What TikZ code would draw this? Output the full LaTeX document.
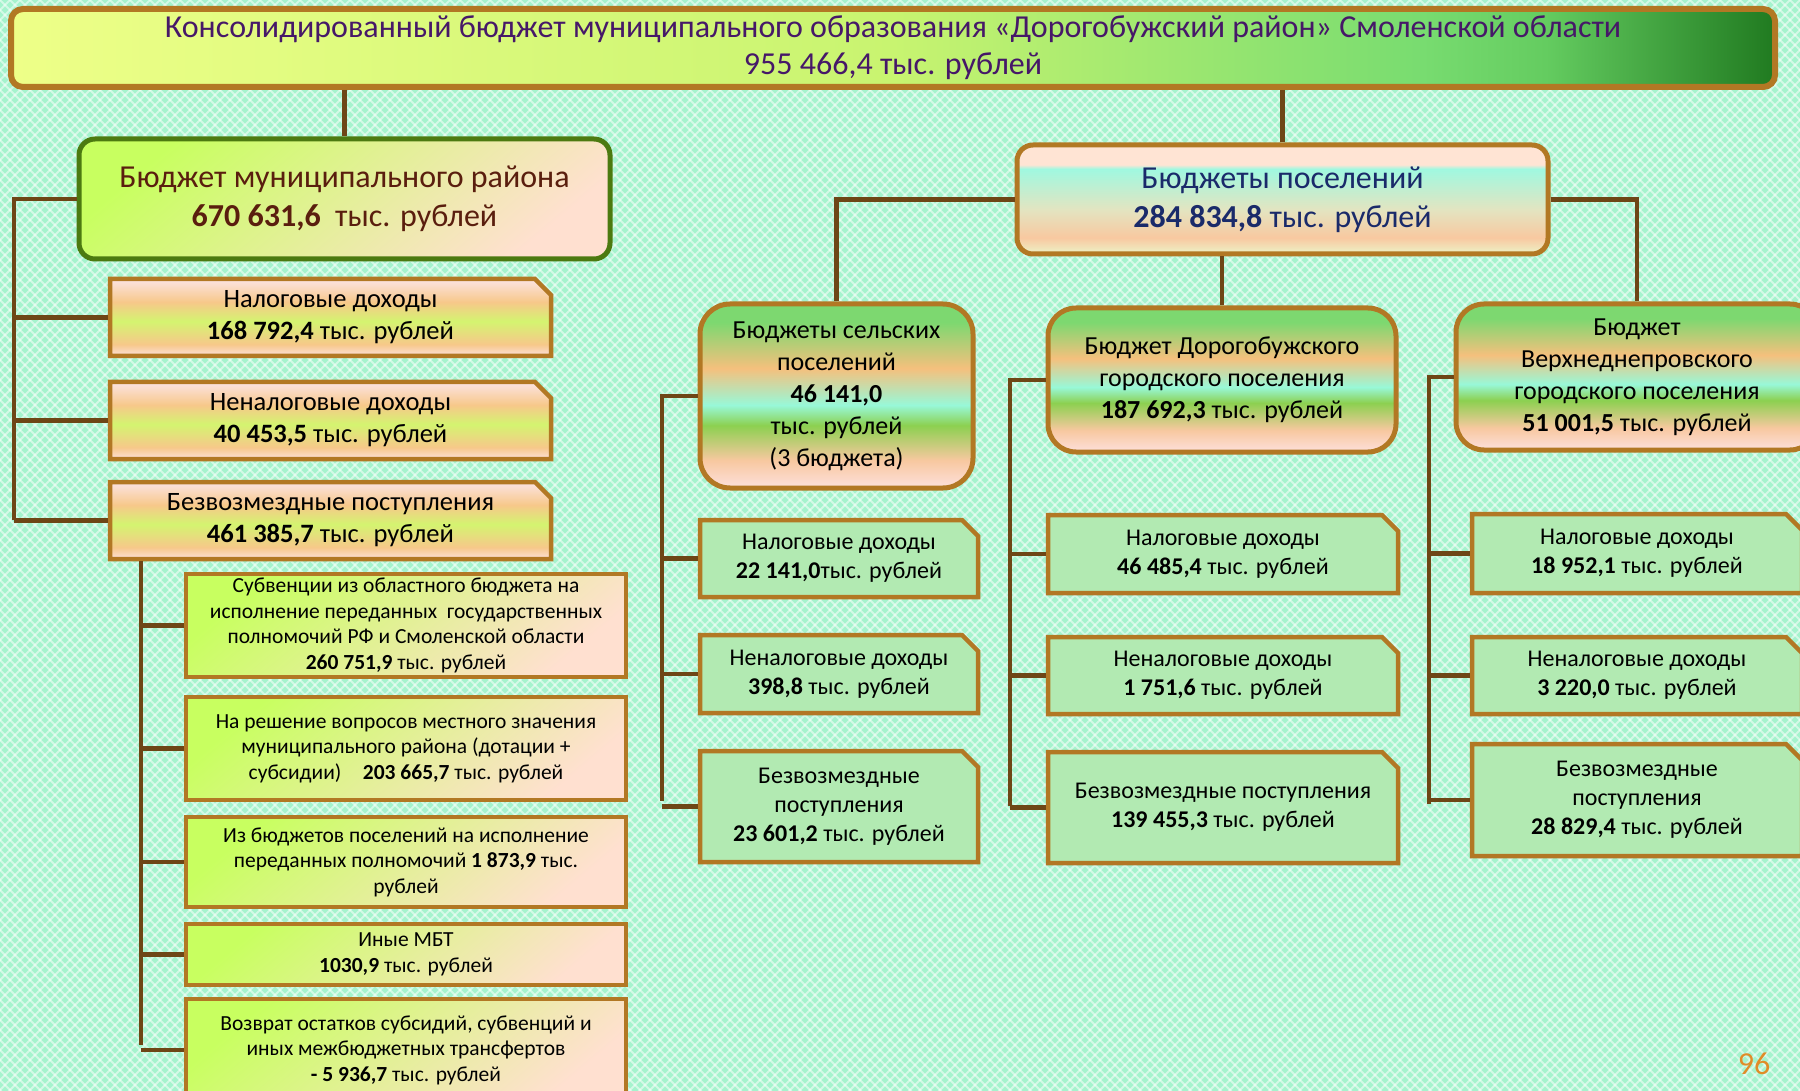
\documentclass[tikz,border=0pt]{standalone}
\usepackage{fontspec}
\setmainfont{Carlito}
\usetikzlibrary{shapes.misc,positioning}
\definecolor{bgmint}{RGB}{165,243,205}
\definecolor{linkbrown}{RGB}{110,70,22}
\definecolor{gold}{RGB}{178,120,36}
\definecolor{leafgreen}{RGB}{76,122,16}
\definecolor{titlepurple}{RGB}{70,24,104}
\definecolor{munibrown}{RGB}{90,30,14}
\definecolor{posnavy}{RGB}{26,42,106}
\definecolor{cellgreen}{RGB}{178,234,178}
\definecolor{pageorange}{RGB}{224,140,40}
% shadings
\definecolor{ttA}{RGB}{238,255,136}
\definecolor{ttB}{RGB}{200,244,112}
\definecolor{ttC}{RGB}{120,220,112}
\definecolor{ttD}{RGB}{100,204,96}
\definecolor{ttE}{RGB}{32,122,32}
\definecolor{chGreen}{RGB}{125,216,112}
\definecolor{chOrange}{RGB}{245,192,125}
\definecolor{chAqua}{RGB}{152,248,216}
\definecolor{chLeaf}{RGB}{140,208,80}
\definecolor{chPeach}{RGB}{248,200,160}
\definecolor{chPink}{RGB}{253,224,220}
\definecolor{lbPink}{RGB}{252,228,228}
\definecolor{lbOrange}{RGB}{247,200,138}
\definecolor{lbLime}{RGB}{212,244,112}
\definecolor{psPeach}{RGB}{255,228,212}
\definecolor{psAqua}{RGB}{160,248,224}
\definecolor{psTan}{RGB}{228,228,192}
\definecolor{psLow}{RGB}{236,244,200}
\definecolor{dgLime}{RGB}{200,255,96}
\definecolor{dgMid}{RGB}{232,236,150}
\definecolor{dgPeach}{RGB}{255,224,208}
\pgfdeclarehorizontalshading{titleshade}{100bp}{color(0bp)=(ttA); color(25bp)=(ttA); color(50bp)=(ttB); color(65bp)=(ttC); color(68.5bp)=(ttD); color(75bp)=(ttE); color(100bp)=(ttE)}
\pgfdeclareverticalshading{colhead}{100bp}{color(0bp)=(chPink); color(25bp)=(chPink); color(32.5bp)=(chPeach); color(42bp)=(chLeaf); color(47.5bp)=(chAqua); color(57.5bp)=(chOrange); color(70bp)=(chGreen); color(100bp)=(chGreen)}
\pgfdeclareverticalshading{leftband}{100bp}{color(0bp)=(chPink); color(25bp)=(chPink); color(32.5bp)=(lbOrange); color(47.5bp)=(lbLime); color(60bp)=(lbOrange); color(75bp)=(lbPink); color(100bp)=(lbPink)}
\pgfdeclareverticalshading{posband}{100bp}{color(0bp)=(psLow); color(25bp)=(psLow); color(32.5bp)=(chPeach); color(45bp)=(psTan); color(64bp)=(psAqua); color(66bp)=(psPeach); color(75bp)=(psPeach); color(100bp)=(psPeach)}

\tikzset{
  link/.style={draw=linkbrown, line width=4.5pt},
  roundbox/.style={rectangle, rounded corners=16pt, draw=gold, line width=5pt, align=center, inner sep=0pt},
  cutbox/.style={chamfered rectangle, chamfered rectangle corners=north east,
    chamfered rectangle xsep=8pt, chamfered rectangle ysep=8pt,
    draw=gold, line width=4.5pt, align=center, inner sep=0pt},
  diagfill/.style={top color=dgLime, middle color=dgMid, bottom color=dgPeach, shading angle=40},
  leftbox/.style={cutbox, shade, shading=leftband, minimum width=441pt, minimum height=77pt, font={\fontsize{26.5}{32}\selectfont}},
  subbox/.style={rectangle, draw=gold, line width=4.5pt, align=center, inner sep=0pt, diagfill, minimum width=440pt, font={\fontsize{21.5}{25.5}\selectfont}},
  cellbox/.style={cutbox, fill=cellgreen, font={\fontsize{24}{29}\selectfont}},
  colhead/.style={roundbox, rounded corners=28pt, shade, shading=colhead, font={\fontsize{26}{32}\selectfont}}
}

\begin{document}
\begin{tikzpicture}[x=1pt, y=-1pt]
  \useasboundingbox (0,0) rectangle (1800,1091);
  \clip (0,0) rectangle (1800,1091);
  % background lattice
  \fill[bgmint] (0,0) rectangle (1800,1091);
  \foreach \k in {-1100,-1090,...,1800} {
    \draw[white, opacity=.5, line width=2pt] (\k,0) -- ++(1100,1100);
  }
  \foreach \k in {0,10,...,2900} {
    \draw[white, opacity=.5, line width=2pt] (\k,0) -- ++(-1100,1100);
  }

  % top
  \node[roundbox, rounded corners=12pt, line width=6pt, shade, shading=titleshade, minimum width=1764pt, minimum height=78pt,
    text=titlepurple, font={\fontsize{32}{37}\selectfont}] (total) at (893,48)
    {Консолидированный бюджет муниципального образования «Дорогобужский район» Смоленской области\\955 466,4 тыс. рублей};

  % municipal district
  \node[roundbox, draw=leafgreen, diagfill, minimum width=531pt, minimum height=120pt,
    text=munibrown, font={\fontsize{32}{39}\selectfont}] (muni) at (344.5,199)
    {Бюджет муниципального района\\\textbf{670 631,6}\ \ тыс. рублей};
  \node[leftbox] (nal) at (330.5,317.5) {Налоговые доходы\\\textbf{168 792,4} тыс. рублей};
  \node[leftbox] (nenal) at (330.5,420.5) {Неналоговые доходы\\\textbf{40 453,5} тыс. рублей};
  \node[leftbox] (bezv) at (330.5,520.5) {Безвозмездные поступления\\\textbf{461 385,7} тыс. рублей};

  \node[subbox, minimum height=103pt] (subv) at (406,625.5)
    {Субвенции из областного бюджета на\\исполнение переданных\ \ государственных\\полномочий РФ и Смоленской области\\\textbf{260 751,9} тыс. рублей};
  \node[subbox, minimum height=103pt] (dotac) at (406,748.5)
    {На решение вопросов местного значения\\муниципального района (дотации +\\субсидии)\quad\textbf{203 665,7} тыс. рублей};
  \node[subbox, minimum height=90pt] (iz) at (406,862)
    {Из бюджетов поселений на исполнение\\переданных полномочий \textbf{1 873,9} тыс.\\рублей};
  \node[subbox, minimum height=61pt] (mbt) at (406,954.5) {Иные МБТ\\\textbf{1030,9} тыс. рублей};
  \node[subbox, minimum height=102pt] (vozv) at (406,1050)
    {Возврат остатков субсидий, субвенций и\\иных межбюджетных трансфертов\\\textbf{- 5 936,7} тыс. рублей};

  % settlements
  \node[roundbox, shade, shading=posband, minimum width=531pt, minimum height=109pt,
    text=posnavy, font={\fontsize{32}{39}\selectfont}] (pos) at (1282.5,199.5)
    {Бюджеты поселений\\\textbf{284 834,8} тыс. рублей};
  \node[colhead, rounded corners=30pt, minimum width=273pt, minimum height=184pt] (rural) at (836.5,396)
    {Бюджеты сельских\\поселений\\\textbf{46 141,0}\\тыс. рублей\\(3 бюджета)};
  \node[colhead, minimum width=348pt, minimum height=144pt] (dorog) at (1222,380)
    {Бюджет Дорогобужского\\городского поселения\\\textbf{187 692,3} тыс. рублей};
  \node[colhead, minimum width=362pt, minimum height=146pt] (verkh) at (1637,377)
    {Бюджет\\Верхнеднепровского\\городского поселения\\\textbf{51 001,5} тыс. рублей};

  \node[cellbox, minimum width=278pt, minimum height=77pt] (r1) at (839,558.5) {Налоговые доходы\\\textbf{22 141,0}тыс. рублей};
  \node[cellbox, minimum width=278pt, minimum height=78pt] (r2) at (839,674) {Неналоговые доходы\\\textbf{398,8} тыс. рублей};
  \node[cellbox, minimum width=278pt, minimum height=111pt] (r3) at (839,806.5) {Безвозмездные\\поступления\\\textbf{23 601,2} тыс. рублей};

  \node[cellbox, minimum width=350pt, minimum height=78pt] (d1) at (1223,554) {Налоговые доходы\\\textbf{46 485,4} тыс. рублей};
  \node[cellbox, minimum width=350pt, minimum height=77pt] (d2) at (1223,675.5) {Неналоговые доходы\\\textbf{1 751,6} тыс. рублей};
  \node[cellbox, minimum width=350pt, minimum height=111pt] (d3) at (1223,807.5) {Безвозмездные поступления\\\textbf{139 455,3} тыс. рублей};

  \node[cellbox, minimum width=330pt, minimum height=79pt] (v1) at (1637,553.5) {Налоговые доходы\\\textbf{18 952,1} тыс. рублей};
  \node[cellbox, minimum width=330pt, minimum height=77pt] (v2) at (1637,675.5) {Неналоговые доходы\\\textbf{3 220,0} тыс. рублей};
  \node[cellbox, minimum width=330pt, minimum height=112pt] (v3) at (1637,800) {Безвозмездные\\поступления\\\textbf{28 829,4} тыс. рублей};

  % bus points
  \coordinate (lbus) at (14,520);
  \coordinate (sbus) at (141,1045);
  \coordinate (rbus) at (662,801);
  \coordinate (dbus) at (1010,806);
  \coordinate (vbus) at (1429,804);

  % connectors
  \draw[link] (total.south -| muni) -- (muni.north);
  \draw[link] (total.south -| pos) -- (pos.north);
  \draw[link] (muni.west) -| (lbus);
  \foreach \n in {nal,nenal,bezv} \draw[link] (\n.west -| lbus) -- (\n.west);
  \draw[link] (bezv.south -| sbus) -- (sbus);
  \foreach \n in {subv,dotac,iz,mbt,vozv} \draw[link] (\n.west -| sbus) -- (\n.west);
  \draw[link] (pos.west) -| (rural.north);
  \draw[link] (pos.east) -| (verkh.north);
  \draw[link] (pos.south -| dorog) -- (dorog.north);
  \draw[link] (rural.west) -| (rbus);
  \foreach \n in {r1,r2,r3} \draw[link] (\n.west -| rbus) -- (\n.west);
  \draw[link] (dorog.west) -| (dbus);
  \foreach \n in {d1,d2,d3} \draw[link] (\n.west -| dbus) -- (\n.west);
  \draw[link] (verkh.west) -| (vbus);
  \foreach \n in {v1,v2,v3} \draw[link] (\n.west -| vbus) -- (\n.west);

  \node[text=pageorange, font={\fontsize{32}{34}\selectfont}] (page) at (1754,1064) {96};
\end{tikzpicture}
\end{document}
